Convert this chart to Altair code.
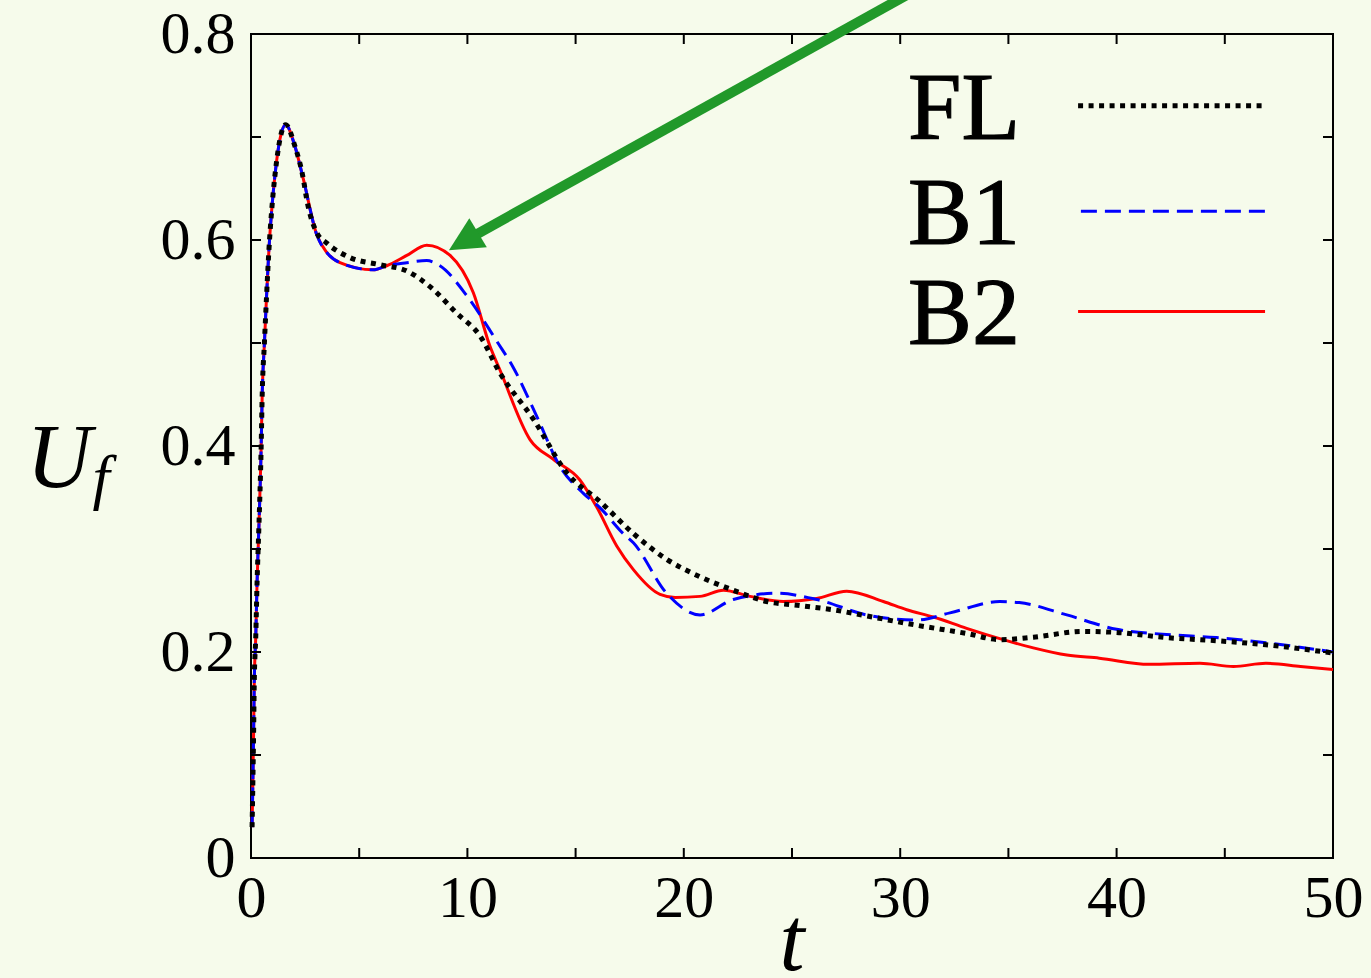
import altair as alt
import pandas as pd

# ---------------- data ----------------
RISE_T = [0.05, 0.09, 0.12, 0.15, 0.22, 0.28, 0.37, 0.46, 0.52, 0.62, 0.72, 0.83, 0.96, 1.14, 1.34, 1.60, 2.03, 2.42]
RISE_Y = [0.03, 0.079, 0.121, 0.170, 0.215, 0.267, 0.325, 0.390, 0.452, 0.500, 0.546, 0.591, 0.630, 0.669, 0.698, 0.712, 0.691, 0.659]

FL_T = [2.57, 3.04, 3.5, 4.57, 5.96, 7.19, 8.42, 9.5, 10.58, 11.5, 13.05, 14.59, 16.13, 17.67, 19.21,
        20.75, 22.29, 23.83, 25.37, 26.9, 28.45, 30.76, 33.07, 34.6, 36.15, 38.46, 40.0, 42.3, 44.6, 46.9, 50.0]
FL_Y = [0.640, 0.607, 0.597, 0.583, 0.576, 0.570, 0.552, 0.529, 0.507, 0.471, 0.426, 0.374, 0.346, 0.315, 0.290,
        0.273, 0.260, 0.249, 0.245, 0.241, 0.235, 0.226, 0.218, 0.212, 0.2144, 0.220, 0.219, 0.214, 0.211, 0.207, 0.199]

B1_T = [3.04, 3.5, 4.11, 5.65, 6.27, 7.2, 8.12, 8.73, 9.97, 11.35, 12.1, 13.2, 14.28, 15.36, 16.13, 17.2, 17.67,
        19.21, 20.75, 22.29, 24.3, 26.14, 28.45, 30.76, 32.3, 34.6, 35.5, 37.7, 40.0, 42.3, 44.6, 46.9, 50.0]
B1_Y = [0.605, 0.588, 0.578, 0.571, 0.575, 0.578, 0.580, 0.575, 0.546, 0.502, 0.477, 0.429, 0.380, 0.354, 0.340, 0.315, 0.306,
        0.257, 0.236, 0.251, 0.257, 0.251, 0.236, 0.231, 0.238, 0.249, 0.248, 0.236, 0.222, 0.217, 0.214, 0.209, 0.200]

B2_T = [3.04, 3.5, 4.11, 5.65, 6.27, 7.2, 8.12, 9.2, 10.27, 11.04, 11.5, 12.9, 13.97, 15.2, 15.97, 16.9, 17.67, 18.9,
        19.6, 20.75, 21.83, 23.06, 24.6, 26.14, 27.53, 29.22, 30.3, 31.53, 33.07, 34.6, 36.15, 37.7, 39.2, 41.5,
        43.85, 45.4, 46.9, 48.5, 50.0]
B2_Y = [0.605, 0.588, 0.578, 0.571, 0.575, 0.585, 0.595, 0.585, 0.549, 0.497, 0.474, 0.406, 0.387, 0.367, 0.341, 0.303, 0.280, 0.256,
        0.253, 0.254, 0.260, 0.254, 0.249, 0.252, 0.259, 0.249, 0.241, 0.234, 0.223, 0.213, 0.204, 0.197, 0.194, 0.188,
        0.189, 0.186, 0.189, 0.186, 0.183]

X_LABELS = [0, 10, 20, 30, 40, 50]
Y_LABELS = [0, 0.2, 0.4, 0.6, 0.8]
X_TICKS = [5, 10, 15, 20, 25, 30, 35, 40, 45]
Y_TICKS = [0.1, 0.2, 0.3, 0.4, 0.5, 0.6, 0.7]

LEG_NAMES = ["FL", "B1", "B2"]
LEG_TEXT_T = [30.36, 30.36, 30.36]
LEG_TEXT_Y = [0.6978, 0.5959, 0.4987]
LEG_LINE_T1 = [38.22, 38.35, 38.22]
LEG_LINE_T2 = [46.86, 46.9, 46.86]
LEG_LINE_Y = [0.7303, 0.628, 0.5305]

ARROW_T = [31.65, 9.82]
ARROW_Y = [0.8535, 0.5985]

# ---------------- build ----------------
W, H = 1082, 824
FONT = "Liberation Serif"
GREEN = "#21992a"

xs = alt.Scale(domain=[0, 50], nice=False, zero=False)
ys = alt.Scale(domain=[0, 0.8], nice=False, zero=False)

X_AXIS = alt.Axis(values=X_LABELS, ticks=False, tickSize=0, domain=False, grid=False, title=None,
                  labelFont=FONT, labelFontSize=60, labelColor="black", labelPadding=11,
                  labelExpr="format(datum.value, 'd')", labelFlush=False)
Y_AXIS = alt.Axis(values=Y_LABELS, ticks=False, tickSize=0, domain=False, grid=False, title=None,
                  labelFont=FONT, labelFontSize=60, labelColor="black", labelPadding=16,
                  labelExpr="datum.value == 0 ? '0' : format(datum.value, '.1f')", labelFlush=False)


def X(field):
    return alt.X(field, scale=xs, axis=X_AXIS)


def Y(field):
    return alt.Y(field, scale=ys, axis=Y_AXIS)


def series(ts, yv):
    return pd.DataFrame({"t": RISE_T + ts, "u": RISE_Y + yv})


def line_layer(df, **kw):
    return alt.Chart(df).mark_line(interpolate="monotone", clip=False, **kw).encode(
        x=X("t:Q"), y=Y("u:Q"))


xt = pd.DataFrame({"t": X_TICKS})
yt = pd.DataFrame({"u": Y_TICKS})
tick_kw = dict(color="black", strokeWidth=2)
ticks_bottom = alt.Chart(xt).mark_rule(**tick_kw).encode(x=X("t:Q"), y=alt.value(H), y2=alt.value(H - 10))
ticks_top = alt.Chart(xt).mark_rule(**tick_kw).encode(x=X("t:Q"), y=alt.value(0), y2=alt.value(10))
ticks_left = alt.Chart(yt).mark_rule(**tick_kw).encode(y=Y("u:Q"), x=alt.value(0), x2=alt.value(10))
ticks_right = alt.Chart(yt).mark_rule(**tick_kw).encode(y=Y("u:Q"), x=alt.value(W), x2=alt.value(W - 10))

b2 = line_layer(series(B2_T, B2_Y), color="#ff0000", strokeWidth=3)
b1 = line_layer(series(B1_T, B1_Y), color="#0000ff", strokeWidth=3, strokeDash=[16, 8])
fl = line_layer(series(FL_T, FL_Y), color="black", strokeWidth=5, strokeDash=[5, 5.5])

leg = pd.DataFrame({"name": LEG_NAMES, "tx": LEG_TEXT_T, "ty": LEG_TEXT_Y,
                    "l1": LEG_LINE_T1, "l2": LEG_LINE_T2, "ly": LEG_LINE_Y})
leg_text = alt.Chart(leg).mark_text(font=FONT, fontSize=96, align="left",
                                    baseline="alphabetic", color="black",
                                    stroke="black", strokeWidth=1.2).encode(
    x=X("tx:Q"), y=Y("ty:Q"), text="name:N")


def leg_line(i, **kw):
    return alt.Chart(leg.iloc[[i]]).mark_rule(**kw).encode(x=X("l1:Q"), x2="l2:Q", y=Y("ly:Q"))


leg_fl = leg_line(0, color="black", strokeWidth=5, strokeDash=[5, 5.5])
leg_b1 = leg_line(1, color="#0000ff", strokeWidth=3, strokeDash=[16, 8])
leg_b2 = leg_line(2, color="#ff0000", strokeWidth=3)

arrow_df = pd.DataFrame({"t": ARROW_T, "u": ARROW_Y})
arrow_line = alt.Chart(arrow_df).mark_line(color=GREEN, strokeWidth=10, clip=False, strokeCap="butt").encode(
    x=X("t:Q"), y=Y("u:Q"))
arrow_head = alt.Chart(arrow_df.iloc[[1]]).mark_point(
    shape="M0,-1L1,1L-1,1Z", size=1156, angle=239, filled=True, color=GREEN, opacity=1, clip=False
).encode(x=X("t:Q"), y=Y("u:Q"))

t_title = alt.Chart(pd.DataFrame({"s": ["t"]})).mark_text(
    font=FONT, fontSize=90, fontStyle="italic", align="center", baseline="alphabetic", color="black"
).encode(x=alt.value(541), y=alt.value(936), text="s:N")
u_title = alt.Chart(pd.DataFrame({"s": ["U"]})).mark_text(
    font=FONT, fontSize=90, fontStyle="italic", align="center", baseline="alphabetic", color="black"
).encode(x=alt.value(-192), y=alt.value(453), text="s:N")
f_title = alt.Chart(pd.DataFrame({"s": ["f"]})).mark_text(
    font=FONT, fontSize=62, fontStyle="italic", align="center", baseline="alphabetic", color="black"
).encode(x=alt.value(-150), y=alt.value(464), text="s:N")

chart = alt.layer(
    b2, b1, fl,
    ticks_bottom, ticks_top, ticks_left, ticks_right,
    leg_text, leg_fl, leg_b1, leg_b2,
    arrow_line, arrow_head,
    t_title, u_title, f_title,
).properties(
    width=W, height=H,
    autosize=alt.AutoSizeParams(type="none"),
    padding={"left": 251, "top": 34, "right": 38, "bottom": 120},
    background="#f6fbeb",
).configure_view(stroke="black", strokeWidth=2, fill="#f6fbeb")

chart.save("out.html", embed_options={"renderer": "svg", "actions": False})
